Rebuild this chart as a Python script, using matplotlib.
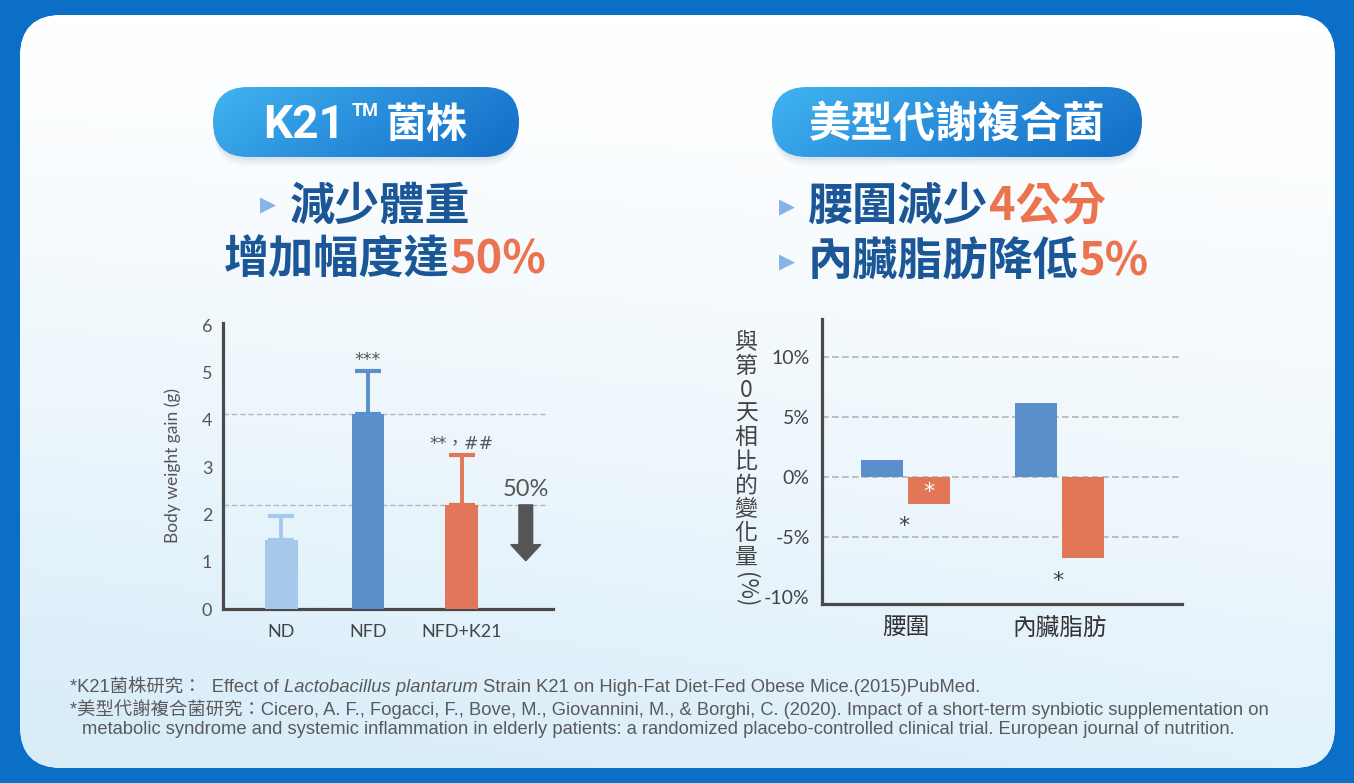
import numpy as np
import matplotlib.pyplot as plt
from matplotlib.patches import FancyBboxPatch, Rectangle
from matplotlib.colors import LinearSegmentedColormap

plt.rcParams['font.family'] = ['Noto Sans CJK TC', 'DejaVu Sans']

# ---- data: left chart (K21 mice study) ----
groups = ['ND', 'NFD', 'NFD+K21']
weight_gain = [1.46, 4.12, 2.20]
weight_err = [0.50, 0.90, 1.05]
bar_colors = ['#a5c9ea', '#5b8fcb', '#e2765a']
sig_marks = ['', '***', '**，##']

# ---- data: right chart (synbiotic study) ----
measures = ['腰圍', '內臟脂肪']
placebo_change = [1.4, 6.1]
synbiotic_change = [-2.3, -6.75]
pct_ticks = [10, 5, 0, -5, -10]

W, H = 1354, 783
DARK_BLUE = '#1b5797'
ORANGE = '#ec7350'

fig = plt.figure(figsize=(W / 100, H / 100), dpi=100)
bg = fig.add_axes([0, 0, 1, 1])
bg.axis('off')

# frame + card
bg.add_patch(Rectangle((0, 0), W, H, color='#0b6fc8', zorder=0))
card = FancyBboxPatch((20, 15), 1315, 753, boxstyle='round,pad=0,rounding_size=42',
                      fc='white', ec='none', zorder=1)
bg.add_patch(card)
yy, xx = np.mgrid[0:1:200j, 0:1:300j]
shade = np.clip(0.75 * yy ** 1.3 + 0.35 * (1 - xx) * yy, 0, 1)
card_cm = LinearSegmentedColormap.from_list('card', ['#ffffff', '#d9edf9'])
im = bg.imshow(shade, extent=(20, 1335, 768, 15), cmap=card_cm, vmin=0, vmax=1,
               aspect='auto', zorder=1.5)
im.set_clip_path(card)


def pill(x0, x1, y0, y1):
    h = y1 - y0
    for k, a in [(9, 0.05), (6, 0.07), (3, 0.09)]:
        sh = FancyBboxPatch((x0 + 1, y0 + k), x1 - x0 - 2, h, boxstyle=f'round,pad=0,rounding_size={h / 2}',
                            fc='#6d8aa5', ec='none', alpha=a, zorder=2)
        bg.add_patch(sh)
    p = FancyBboxPatch((x0, y0), x1 - x0, h, boxstyle=f'round,pad=0,rounding_size={h / 2}',
                       fc='none', ec='none', zorder=3)
    bg.add_patch(p)
    gy, gx = np.mgrid[0:1:50j, 0:1:200j]
    g = np.clip(0.8 * gx + 0.25 * gy, 0, 1)
    cm = LinearSegmentedColormap.from_list('pill', ['#40b4f0', '#2a8fdc', '#1570c8'])
    gi = bg.imshow(g, extent=(x0, x1, y1, y0), cmap=cm, vmin=0, vmax=1, aspect='auto', zorder=3)
    gi.set_clip_path(p)


def put_parts(x, y, parts, **common):
    r = fig.canvas.get_renderer()
    for txt, kw in parts:
        opts = dict(common)
        opts.update(kw)
        t = bg.text(x, y, txt, ha='left', va='center', zorder=5, **opts)
        x += t.get_window_extent(r).width
    return x


pill(213, 519, 87, 157)
pill(772, 1142, 87, 157)

bg.text(263, 125, 'K21', color='white', fontsize=33, fontweight='bold', ha='left', va='center',
        family=['Roboto', 'DejaVu Sans'], zorder=5)
bg.text(352, 111, 'TM', color='white', fontsize=13, fontweight='bold', ha='left', va='center',
        family=['Roboto', 'DejaVu Sans'], zorder=5)
bg.text(427, 125, '菌株', color='white', fontsize=29.5, fontweight='bold', ha='center', va='center', zorder=5)
bg.text(957, 125, '美型代謝複合菌', color='white', fontsize=30.5, fontweight='bold',
        ha='center', va='center', zorder=5)

tri = dict(color='#84b5e6', fontsize=15)
head = dict(fontsize=32.5, fontweight='bold')
bg.text(268, 205, '▶', ha='center', va='center', family=['DejaVu Sans'], zorder=5, **tri)
put_parts(290, 207, [('減少體重', dict(color=DARK_BLUE))], **head)
put_parts(224, 260, [('增加幅度達', dict(color=DARK_BLUE)), ('50%', dict(color=ORANGE))], **head)
bg.text(787, 207, '▶', ha='center', va='center', family=['DejaVu Sans'], zorder=5, **tri)
bg.text(787, 262, '▶', ha='center', va='center', family=['DejaVu Sans'], zorder=5, **tri)
put_parts(808, 207, [('腰圍減少', dict(color=DARK_BLUE)), ('4公分', dict(color=ORANGE))], **head)
put_parts(808, 262, [('內臟脂肪降低', dict(color=DARK_BLUE)), ('5%', dict(color=ORANGE))], **head)

# ---- left chart ----
ax1 = fig.add_axes([223.3 / W, 1 - 609 / H, (553 - 223.3) / W, (609 - 322.7) / H])
ax1.patch.set_alpha(0)
xpos = [0, 1, 2.08]
ax1.set_xlim(-0.669, 3.134)
ax1.set_ylim(0, 6.05)
ax1.hlines([weight_gain[1], weight_gain[2]], -0.669, 3.04, colors='#b9b9b9',
           linestyles=(0, (4, 2)), lw=1, zorder=1)
ax1.bar(xpos, weight_gain, width=0.377, color=bar_colors, zorder=3)
for x, v, e, c, s in zip(xpos, weight_gain, weight_err, bar_colors, sig_marks):
    ax1.errorbar(x, v, yerr=[[0], [e]], ecolor=c, elinewidth=2.8, capsize=9.5, capthick=3,
                 fmt='none', zorder=2)
    if s:
        ax1.text(x, v + e + 0.14, s, ha='center', va='baseline', fontsize=12.5, color='#555555',
                 family=['DejaVu Sans', 'Noto Sans CJK TC'])
ax1.arrow(2.82, weight_gain[2], 0, 1.02 - weight_gain[2], width=0.158, head_width=0.346,
          head_length=0.34, length_includes_head=True, color='#555555', zorder=3)
ax1.text(2.82, 2.52, '50%', ha='center', va='center', fontsize=17, color='#555555', family='Lato')
ax1.set_yticks(range(7))
ax1.set_xticks(xpos, groups)
ax1.tick_params(length=0, colors='#555555', labelsize=13)
ax1.tick_params(axis='y', pad=8)
ax1.tick_params(axis='x', pad=11, labelcolor='#444444')
for lab in ax1.get_xticklabels() + ax1.get_yticklabels():
    lab.set_family('Lato')
ax1.set_ylabel('Body weight gain (g)', fontsize=12.5, color='#555555', family='Lato')
ax1.yaxis.set_label_coords(-0.128, 0.5)
for side in ['top', 'right']:
    ax1.spines[side].set_visible(False)
for side in ['left', 'bottom']:
    ax1.spines[side].set_color('#4a4a4a')
    ax1.spines[side].set_linewidth(2.3)

# ---- right chart ----
ax2 = fig.add_axes([822.3 / W, 1 - 604 / H, (1181.7 - 822.3) / W, (604 - 319.3) / H])
ax2.patch.set_alpha(0)
gx = np.arange(len(measures))
ax2.set_xlim(-0.54, 1.79)
ax2.set_ylim(-10.6, 13.1)
ax2.hlines(pct_ticks[:-1], -0.54, 1.777, colors='#b5b5b5', linestyles=(0, (4, 2)), lw=1.2, zorder=1)
ax2.bar(gx - 0.152, placebo_change, width=0.272, color='#5b8fcb', zorder=3)
ax2.bar(gx + 0.152, synbiotic_change, width=0.272, color='#e27757', zorder=3)
star = dict(ha='center', va='baseline', fontsize=16, family='DejaVu Sans', zorder=4)
ax2.text(gx[0] + 0.152, -0.8 - 1.0, '*', color='white', **star)
ax2.text(gx[0] - 0.01, -3.6 - 1.0, '*', color='#444444', **star)
ax2.text(gx[1] - 0.01, -8.2 - 1.0, '*', color='#444444', **star)
ax2.set_yticks(pct_ticks, [f'{t}%' for t in pct_ticks])
ax2.set_xticks(gx, measures)
ax2.tick_params(length=0)
ax2.tick_params(axis='y', pad=9, labelsize=14, colors='#444444')
ax2.tick_params(axis='x', pad=9, labelsize=17, colors='#333333')
for lab in ax2.get_yticklabels():
    lab.set_family('Lato')
for side in ['top', 'right']:
    ax2.spines[side].set_visible(False)
for side in ['left', 'bottom']:
    ax2.spines[side].set_color('#4a4a4a')
    ax2.spines[side].set_linewidth(2.3)

# stacked vertical y label
for i, ch in enumerate('與第0天相比的變化量'):
    bg.text(746, 343 + i * 23.8, ch, ha='center', va='center', fontsize=16.5, color='#444444', zorder=5)
bg.text(746, 590, '(%)', ha='center', va='center', fontsize=16, color='#444444', rotation=270, zorder=5)

# ---- footnotes ----
foot = dict(fontsize=13.2, color='#5a5a5a', family=['Liberation Sans', 'Noto Sans CJK TC'])
put_parts(70, 688, [('*K21菌株研究：  Effect of ', {}), ('Lactobacillus plantarum', dict(style='italic')),
                    (' Strain K21 on High-Fat Diet-Fed Obese Mice.(2015)PubMed.', {})], **foot)
put_parts(70, 709, [('*美型代謝複合菌研究：Cicero, A. F., Fogacci, F., Bove, M., Giovannini, M., & Borghi, C. (2020). '
                     'Impact of a short-term synbiotic supplementation on', {})], **foot)
put_parts(82, 730, [('metabolic syndrome and systemic inflammation in elderly patients: a randomized '
                     'placebo-controlled clinical trial. European journal of nutrition.', {})], **foot)

bg.set_xlim(0, W)
bg.set_ylim(H, 0)
fig.savefig('out.png', dpi=100)
